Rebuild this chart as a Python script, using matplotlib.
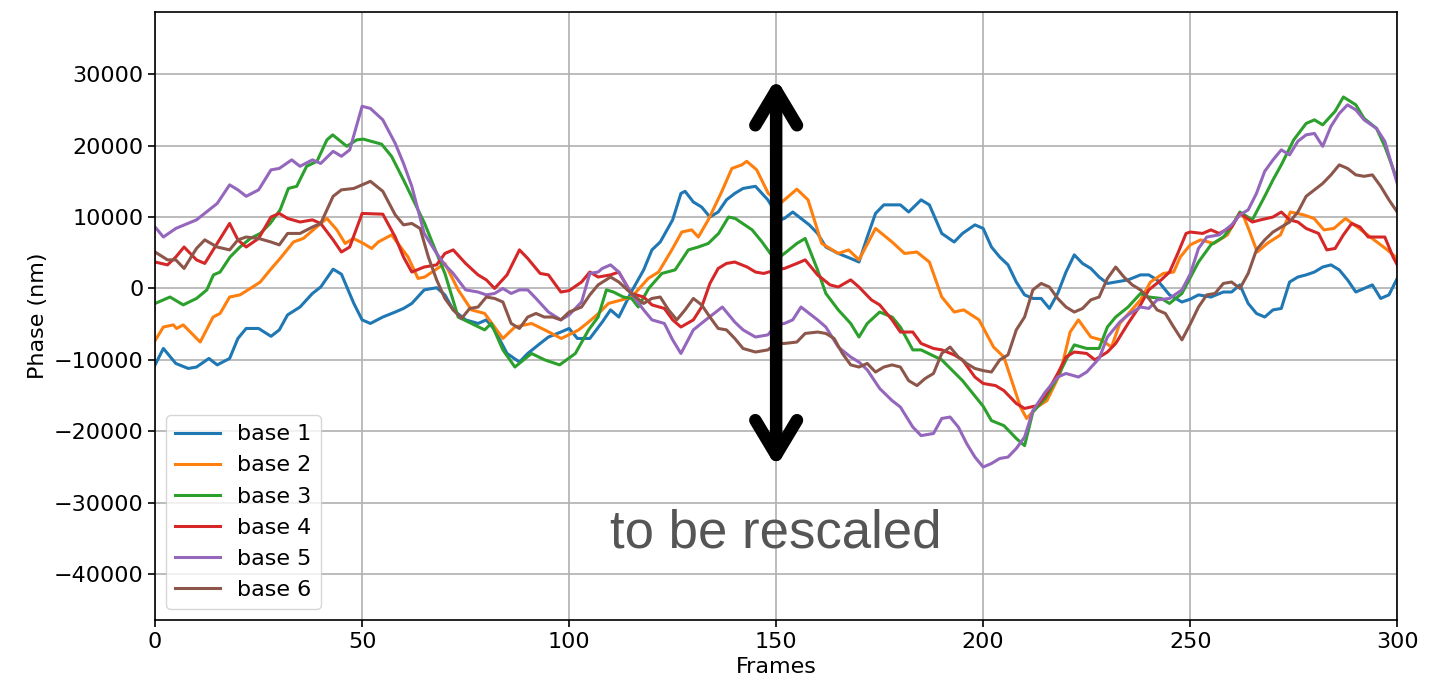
import numpy as np
import matplotlib.pyplot as plt

# each trace: frame positions and phase values (thousands of nm)
base1_x = [0, 2, 5, 8, 10, 13, 15, 18, 20, 22, 25, 28, 30, 32, 35, 38, 40, 43, 45, 48,
           50, 52, 55, 58, 60, 62, 65, 68, 70, 72, 75, 78, 80, 82, 85, 88, 90, 93, 95, 98,
           100, 102, 105, 108, 110, 112, 115, 118, 120, 122, 125, 127, 128, 130, 132, 134, 136, 138, 140, 142,
           145, 148, 151, 152, 154, 156, 158, 160, 162, 165, 168, 170, 172, 174, 176, 178, 180, 182, 185, 187,
           190, 193, 195, 198, 200, 202, 204, 206, 208, 210, 212, 214, 216, 218, 220, 222, 224, 226, 228, 230,
           232, 235, 238, 240, 242, 245, 248, 250, 252, 255, 258, 260, 262, 264, 266, 268, 270, 272, 274, 276,
           278, 280, 282, 284, 286, 288, 290, 292, 294, 296, 298, 300]
base1_y = [-10.7, -8.4, -10.5, -11.2, -11.0, -9.8, -10.7, -9.8, -7.0, -5.6, -5.6, -6.7, -5.8, -3.7, -2.6, -0.7, 0.2, 2.7, 2.0, -2.1,
           -4.4, -4.9, -4.0, -3.3, -2.8, -2.1, -0.2, 0.1, -0.9, -3.0, -4.4, -4.9, -4.4, -5.8, -9.1, -10.3, -9.1, -7.7, -6.8, -6.1,
           -5.6, -7.0, -7.0, -4.7, -3.0, -4.0, -0.5, 2.6, 5.4, 6.5, 9.6, 13.3, 13.6, 12.1, 11.4, 10.0, 10.7, 12.4, 13.3, 14.0,
           14.3, 12.4, 9.6, 9.8, 10.7, 9.8, 8.9, 7.7, 5.8, 4.9, 4.2, 3.7, 7.2, 10.5, 11.7, 11.7, 11.7, 10.7, 12.4, 11.7,
           7.7, 6.5, 7.7, 8.9, 8.4, 5.8, 4.4, 3.3, 0.9, -0.9, -1.4, -1.4, -2.8, -0.7, 2.3, 4.7, 3.5, 2.8, 1.6, 0.7,
           0.9, 1.2, 1.9, 1.9, 1.2, -0.9, -1.9, -1.5, -0.9, -1.2, -0.5, -0.5, 0.5, -2.1, -3.5, -4.0, -3.0, -2.8, 0.9, 1.6,
           1.9, 2.3, 3.0, 3.3, 2.6, 1.2, -0.5, 0.0, 0.5, -1.4, -0.9, 1.4]

base2_x = [0, 2, 4.4, 5.2, 6.8, 10.9, 14, 15.7, 18, 20.5, 23, 25.4, 27.8, 30.2, 33.4, 35.8, 39, 41.5, 43.9, 45.9,
           47.9, 50.3, 52.3, 53.9, 57.1, 61.1, 63.5, 65.1, 70, 73.2, 76.4, 79.6, 84, 86.9, 90.9, 94.1, 98.1, 100.6, 102.3, 104.7,
           107.1, 109.5, 112.7, 115.1, 119.1, 121.6, 124.8, 127.2, 129.6, 131.2, 133.6, 136.9, 139.3, 141.7, 142.9, 145.3, 148.1, 151, 155, 157.7,
           161, 165, 167.5, 170, 174, 178, 181, 184, 187, 190, 193, 195.3, 199, 202.5, 205, 209, 210.5, 213, 215.4, 218.6,
           221, 223, 226, 228.5, 231, 233, 238, 240.4, 243.5, 246, 247.6, 250, 252.5, 255.7, 259, 261.3, 262.6, 264.2, 266.2, 268.6,
           271.8, 274.2, 277.4, 279.9, 282.3, 284.7, 287.5, 290.3, 293.5, 297.6, 300]
base2_y = [-7.3, -5.4, -5.1, -5.6, -5.1, -7.5, -4.0, -3.5, -1.2, -0.9, 0.0, 0.9, 2.6, 4.2, 6.5, 7.0, 8.6, 9.8, 8.2, 6.3,
           7.0, 6.3, 5.6, 6.5, 7.5, 4.4, 1.4, 1.6, 3.5, -0.2, -3.0, -3.5, -7.0, -5.4, -4.9, -5.8, -7.0, -6.3, -5.8, -4.7,
           -3.5, -2.1, -1.6, -1.2, 1.4, 2.3, 5.4, 7.9, 8.2, 7.2, 9.6, 13.6, 16.8, 17.3, 17.8, 16.6, 13.3, 11.9, 13.9, 12.4,
           6.3, 4.9, 5.4, 4.0, 8.4, 6.5, 4.9, 5.1, 3.7, -1.2, -3.3, -3.0, -4.4, -8.2, -9.6, -16.6, -18.2, -16.6, -15.7, -11.9,
           -6.1, -4.4, -6.8, -7.2, -8.2, -4.9, -1.6, 0.9, 2.1, 2.3, 4.4, 6.1, 6.8, 6.3, 7.5, 10.0, 10.5, 8.2, 5.1, 6.3,
           7.5, 10.7, 10.3, 9.8, 8.2, 8.4, 9.8, 8.6, 7.2, 5.4, 4.2]

base3_x = [0, 3.6, 6.8, 10, 12.5, 14.1, 15.7, 18.1, 20.5, 23, 25.4, 27.8, 30.2, 32.2, 34.2, 36.6, 39.1, 41.5, 42.9, 46.3,
           48.7, 50.3, 54.7, 57.1, 60, 65.1, 68.3, 70, 73.2, 76.4, 79.6, 81.2, 84, 86.9, 90.9, 94.1, 97.7, 101.5, 104.7, 107,
           109, 110.7, 113.1, 115.1, 116.7, 119.2, 122.4, 125.6, 128.8, 131.2, 133.6, 136.1, 138.5, 140.1, 144.2, 146.6, 148.6, 150, 152, 155,
           157, 160, 162, 165, 168, 170, 172, 175, 178, 180, 183, 185, 190, 195, 200, 202, 205, 208, 210, 212,
           215, 218, 220, 222, 225, 228, 230, 232, 235, 238, 240, 243, 245, 248, 250, 252, 255, 258, 260, 262,
           265, 268, 270, 272, 275, 278, 280, 282, 285, 287, 290, 292, 295, 297, 300]
base3_y = [-2.1, -1.2, -2.3, -1.4, -0.2, 1.9, 2.3, 4.4, 5.8, 7.0, 7.7, 9.1, 11.0, 14.0, 14.3, 17.1, 17.8, 20.8, 21.5, 19.9,
           20.8, 20.9, 20.2, 18.5, 15.2, 9.1, 4.5, 2.1, -4.0, -4.9, -5.8, -4.9, -8.6, -11.0, -9.1, -10.0, -10.7, -9.1, -5.8, -4.0,
           -0.2, -0.5, -1.2, -1.4, -2.6, 0.0, 2.1, 2.6, 5.4, 5.8, 6.3, 7.7, 10.0, 9.8, 8.2, 6.5, 4.9, 4.0, 4.9, 6.3,
           7.0, 2.6, -0.7, -3.0, -4.9, -6.8, -4.9, -3.3, -4.0, -5.4, -8.6, -8.6, -10.0, -12.9, -16.5, -18.5, -19.2, -21.0, -22.0, -17.3,
           -15.4, -12.4, -10.0, -7.9, -8.4, -8.4, -5.4, -4.0, -2.6, -0.7, -1.2, -1.4, -2.1, -0.7, 1.5, 3.7, 6.1, 7.2, 8.6, 10.7,
           9.6, 12.9, 15.2, 17.3, 20.8, 23.1, 23.6, 22.9, 24.8, 26.8, 25.7, 23.8, 22.4, 19.9, 15.2]

base4_x = [0, 3, 5, 7, 10, 12, 15, 18, 20, 22, 25, 28, 30, 32, 35, 38, 40, 43, 45, 47,
           50, 55, 58, 60, 62, 65, 68, 70, 72, 75, 78, 80, 82, 85, 88, 90, 93, 95, 98, 100,
           103, 105, 107, 110, 112, 115, 118, 120, 123, 125, 127, 130, 132, 134, 136, 138, 140, 143, 145, 147,
           150, 152, 155, 157, 160, 163, 165, 168, 170, 173, 175, 178, 180, 183, 185, 188, 190, 193, 195, 198,
           200, 203, 205, 208, 210, 213, 215, 218, 220, 222, 225, 227, 230, 232, 235, 238, 240, 243, 245, 247,
           249, 250, 253, 255, 257, 260, 262, 265, 267, 270, 272, 274, 276, 278, 281, 283, 285, 287, 289, 291,
           293, 295, 297, 299, 300]
base4_y = [3.7, 3.3, 4.4, 5.8, 4.0, 3.5, 6.3, 9.1, 6.8, 5.8, 7.0, 10.0, 10.5, 9.8, 9.3, 9.6, 9.1, 6.8, 5.1, 5.8,
           10.5, 10.4, 7.2, 4.4, 2.3, 3.0, 3.3, 4.9, 5.4, 3.5, 1.9, 1.2, 0.0, 1.9, 5.4, 4.2, 2.1, 1.9, -0.5, -0.3,
           0.9, 2.3, 1.6, 1.9, 2.3, -0.7, -1.2, -2.3, -2.8, -4.4, -5.4, -4.4, -2.6, 0.7, 2.8, 3.5, 3.7, 3.0, 2.3, 2.1,
           2.6, 2.8, 3.5, 4.0, 1.9, 0.5, 0.2, 1.2, 0.2, -1.6, -2.3, -4.4, -6.1, -6.1, -7.7, -8.4, -8.6, -9.3, -10.0, -12.4,
           -13.3, -13.6, -14.3, -16.1, -16.8, -16.4, -15.0, -11.9, -9.6, -8.9, -9.1, -10.0, -8.9, -7.7, -4.9, -2.3, -0.2, 1.2, 2.3, 4.9,
           7.7, 7.9, 7.7, 8.2, 7.7, 8.6, 10.5, 9.3, 9.6, 10.0, 10.7, 9.6, 9.3, 8.4, 7.7, 5.4, 5.6, 7.5, 9.1, 8.6,
           7.2, 7.2, 7.2, 4.4, 3.3]

base5_x = [0, 2, 5, 10, 15, 18, 20, 22, 25, 28, 30, 33, 35, 38, 40, 43, 45, 47, 50, 52,
           55, 58, 60, 62, 65, 68, 70, 72, 75, 78, 80, 82, 84, 86, 88, 90, 92, 95, 98, 100,
           103, 105, 107, 108, 110, 112, 115, 118, 120, 123, 125, 127, 130, 133, 135, 137, 140, 142, 145, 148,
           150, 152, 154, 156, 158, 160, 162, 165, 168, 170, 172, 175, 178, 180, 183, 185, 188, 190, 192, 194,
           196, 198, 200, 202, 204, 206, 208, 210, 212, 215, 218, 220, 223, 225, 228, 230, 233, 235, 238, 240,
           242, 245, 248, 250, 252, 254, 257, 260, 262, 264, 266, 268, 270, 272, 274, 276, 278, 280, 282, 284,
           286, 288, 290, 292, 295, 297, 300]
base5_y = [8.6, 7.2, 8.4, 9.6, 11.9, 14.5, 13.8, 12.9, 13.8, 16.6, 16.8, 18.0, 17.1, 18.0, 17.5, 19.2, 18.5, 19.4, 25.5, 25.2,
           23.6, 20.3, 17.5, 14.3, 7.7, 4.9, 3.3, 2.1, -0.2, -0.5, -0.9, -0.7, 0.0, -0.7, -0.2, -0.2, -1.4, -3.3, -4.4, -3.7,
           -1.9, 2.1, 2.3, 2.8, 3.3, 2.3, -0.7, -3.0, -4.4, -4.9, -7.2, -9.1, -5.8, -4.4, -3.5, -2.6, -4.7, -5.8, -6.8, -6.5,
           -5.1, -4.9, -4.4, -2.6, -3.5, -4.4, -5.4, -8.2, -9.6, -10.3, -11.4, -14.0, -15.7, -16.6, -19.4, -20.6, -20.3, -18.2, -18.0, -19.4,
           -21.7, -23.6, -25.0, -24.5, -23.8, -23.6, -22.4, -20.8, -17.1, -14.5, -12.4, -11.9, -12.4, -11.7, -9.8, -6.8, -4.7, -3.7, -2.6, -2.8,
           -1.6, -1.4, -0.2, 2.0, 5.6, 7.2, 7.5, 8.9, 10.3, 11.0, 13.3, 16.4, 18.0, 19.4, 18.7, 20.6, 21.5, 21.7, 19.9, 22.7,
           24.5, 25.7, 25.0, 23.6, 22.4, 20.6, 14.7]

base6_x = [0, 3, 5, 7, 10, 12, 15, 18, 20, 22, 25, 28, 30, 32, 35, 38, 40, 43, 45, 48,
           50, 52, 55, 58, 60, 62, 64, 66, 68, 70, 72, 74, 76, 78, 80, 82, 84, 86, 88, 90,
           92, 94, 96, 98, 100, 103, 105, 107, 110, 112, 115, 118, 120, 122, 124, 126, 128, 130, 132, 134,
           136, 138, 140, 142, 145, 148, 150, 152, 155, 157, 160, 162, 164, 166, 168, 170, 172, 174, 176, 178,
           180, 182, 184, 186, 188, 190, 192, 194, 196, 198, 200, 202, 204, 206, 208, 210, 212, 214, 216, 218,
           220, 222, 224, 226, 228, 230, 232, 234, 236, 238, 240, 242, 244, 246, 248, 250, 252, 254, 256, 258,
           260, 262, 264, 266, 268, 270, 272, 274, 276, 278, 280, 282, 284, 286, 288, 290, 292, 294, 296, 298,
           300]
base6_y = [5.1, 4.0, 4.0, 2.8, 5.6, 6.8, 5.8, 5.4, 6.8, 7.2, 7.0, 6.5, 6.1, 7.7, 7.7, 8.6, 9.1, 12.9, 13.8, 14.0,
           14.5, 15.0, 13.6, 10.3, 8.9, 9.1, 8.4, 4.4, 1.2, -1.4, -3.0, -4.2, -2.8, -2.6, -1.2, -1.4, -1.9, -4.9, -5.6, -4.0,
           -3.5, -4.0, -4.0, -4.4, -3.3, -2.6, -0.9, 0.5, 1.6, 0.9, -0.7, -2.1, -1.4, -1.2, -3.0, -4.4, -3.0, -1.4, -2.3, -4.0,
           -5.6, -5.8, -7.0, -8.4, -8.9, -8.6, -7.7, -7.7, -7.5, -6.3, -6.1, -6.3, -7.0, -9.1, -10.7, -11.0, -10.5, -11.7, -11.0, -10.7,
           -11.0, -12.9, -13.6, -12.6, -11.9, -9.1, -8.2, -9.6, -10.5, -11.2, -11.5, -11.7, -10.0, -9.3, -5.8, -4.0, -0.2, 0.7, 0.2, -1.4,
           -2.6, -3.3, -2.8, -1.6, -1.2, 1.4, 3.0, 1.6, 0.5, -0.2, -1.4, -3.0, -3.5, -5.4, -7.2, -5.0, -2.6, -0.9, -0.7, 0.7,
           0.9, 0.0, 2.1, 5.4, 6.8, 7.9, 8.6, 9.3, 10.7, 12.9, 13.8, 14.7, 15.9, 17.3, 16.8, 15.9, 15.7, 15.9, 14.3, 12.4,
           10.7]

traces = [(base1_x, base1_y), (base2_x, base2_y), (base3_x, base3_y),
          (base4_x, base4_y), (base5_x, base5_y), (base6_x, base6_y)]
labels = ['base 1', 'base 2', 'base 3', 'base 4', 'base 5', 'base 6']

plt.rcParams['font.size'] = 16

fig = plt.figure(figsize=(14.36, 6.85), dpi=100)
ax = fig.add_axes([0.108, 0.095, 0.865, 0.8875])

for (xs, ys), lab in zip(traces, labels):
    ax.plot(xs, np.array(ys) * 1000, lw=2.2, label=lab)

ax.set_xlim(0, 300)
ax.set_ylim(-46400, 38700)
ax.set_xticks(np.arange(0, 301, 50))
ax.set_yticks(np.arange(-40000, 30001, 10000))
ax.grid(True, color='#b0b0b0', lw=1.2)
ax.set_axisbelow(True)
for s in ax.spines.values():
    s.set_linewidth(1.2)
ax.tick_params(width=1.2, length=5)
ax.set_xlabel('Frames')
ax.set_ylabel('Phase (nm)')
ax.legend(loc='lower left', fontsize=16, handlelength=2.0)

# double arrow annotation
ax.annotate('', xy=(150, 29400), xytext=(150, -25000),
            arrowprops=dict(arrowstyle='<->, head_length=0.5, head_width=0.3',
                            color='black', lw=9, mutation_scale=50,
                            shrinkA=0, shrinkB=0))
ax.text(150, -34300, 'to be rescaled', ha='center', va='center',
        fontsize=38, color='#555555', family='Liberation Sans')

fig.savefig('out.png', dpi=100)
